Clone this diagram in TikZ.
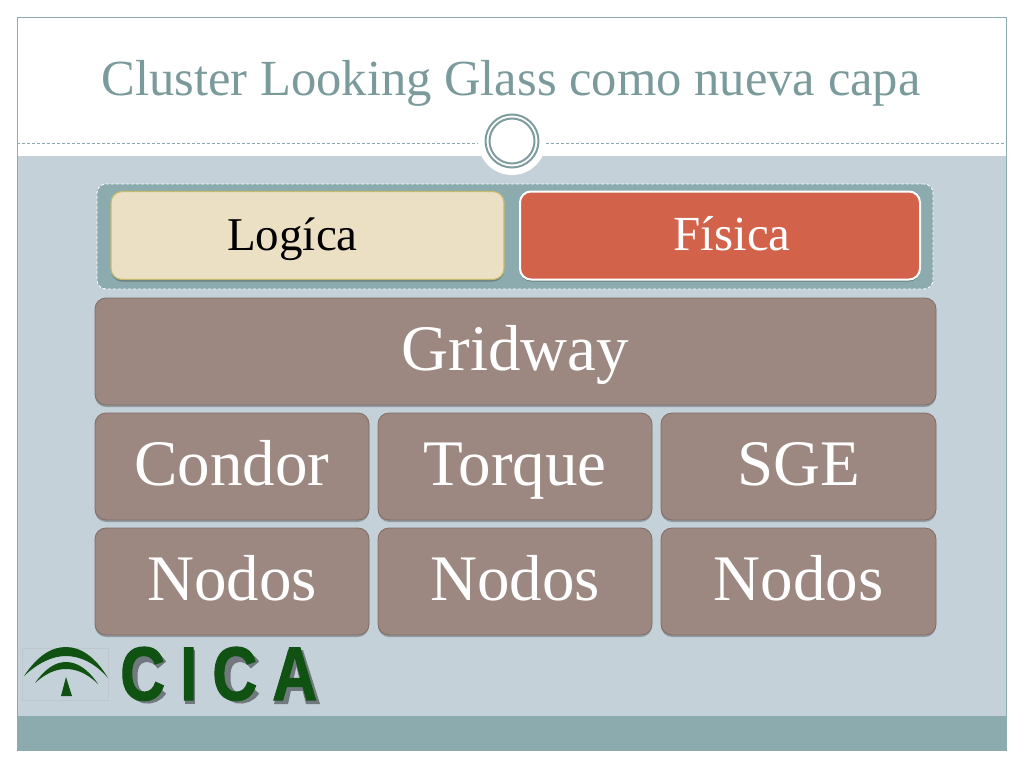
\documentclass[tikz,border=0pt]{standalone}
\usepackage{fontspec}
\setmainfont{Liberation Serif}
\newfontfamily\logofont[BoldFeatures={LetterSpace=24,FakeBold=1.5}]{Liberation Sans}
\usetikzlibrary{shadows}
\definecolor{bgblue}{HTML}{C5D1D9}
\definecolor{teal}{HTML}{8CABAE}
\definecolor{titlecol}{HTML}{7A9A9C}
\definecolor{ringcol}{HTML}{7F9C9F}
\definecolor{brownbox}{HTML}{9C8880}
\definecolor{brownline}{HTML}{7E6D66}
\definecolor{creambox}{HTML}{EBE0C4}
\definecolor{creamline}{HTML}{C4BA6E}
\definecolor{redbox}{HTML}{D2624A}
\definecolor{logogreen}{HTML}{0F5212}
\tikzset{
  softshadow/.style={general shadow={shadow xshift=0pt,shadow yshift=-2pt,fill=black,opacity=.25}},
  blockbox/.style={rectangle,rounded corners=11pt,draw=brownline,line width=.8pt,fill=brownbox,
    text=white,font=\fontsize{65}{65}\selectfont,softshadow,inner sep=0pt,
    text height=40pt,text depth=3pt},
  toplbl/.style={rectangle,rounded corners=11pt,softshadow,inner sep=0pt,
    text height=32pt,text depth=3pt,minimum height=88pt},
  lettershadow/.style={black!42!bgblue},
}
\begin{document}
\begin{tikzpicture}[x=1pt,y=-1pt]
\useasboundingbox (0,0) rectangle (1024,768);
\fill[white] (0,0) rectangle (1024,768);
% slide
\fill[bgblue] (17,156) rectangle (1006,716);
\fill[teal] (17,716) rectangle (1006,750);
\draw[teal,line width=.8pt] (17,17) rectangle (1006,750);
% header rule and medallion
\coordinate (ruleL) at (17,143);
\coordinate (ruleR) at (1006,143);
\node[circle,fill=white,minimum size=68pt,inner sep=0pt] (medal) at (512,141) {};
\coordinate (ruleLe) at (478,143);
\coordinate (ruleRs) at (546,143);
\draw[teal,line width=.9pt,densely dashed] (ruleL) -- (ruleLe);
\draw[teal,line width=.9pt,densely dashed] (ruleRs) -- (ruleR);
\node[circle,draw=ringcol,line width=2pt,minimum size=53pt,inner sep=0pt] (ringA) at (512,141) {};
\node[circle,draw=ringcol,line width=2pt,minimum size=45pt,inner sep=0pt] (ringB) at (512,141) {};
% title
\node[text=titlecol,font=\fontsize{50.6}{50.6}\selectfont,inner sep=0pt,anchor=base] (title) at (511,95) {Cluster Looking Glass como nueva capa};
% top panel
\node[rectangle,rounded corners=9pt,fill=teal,draw=white,line width=.8pt,densely dashed,minimum width=836pt,minimum height=105pt,inner sep=0pt] (panel) at (515,236.5) {};
\node[toplbl,fill=creambox,draw=creamline,line width=1.2pt,minimum width=393pt,text=black,font=\fontsize{47}{47}\selectfont] (logica) at (307.5,235.5) {\hspace*{-30pt}Logíca};
\node[toplbl,fill=redbox,draw=white,line width=2pt,minimum width=400pt,text=white,font=\fontsize{49}{49}\selectfont] (fisica) at (720,235.5) {\hspace*{24pt}Física};
% blocks
\node[blockbox,minimum width=841pt,minimum height=107pt] (gridway) at (515.5,351.5) {Gridway};
\node[blockbox,minimum width=274pt,minimum height=107pt] (condor) at (232,466.5) {Condor};
\node[blockbox,minimum width=274pt,minimum height=107pt] (torque) at (515,466.5) {Torque};
\node[blockbox,minimum width=275pt,minimum height=107pt] (sge) at (798.5,466.5) {SGE};
\node[blockbox,minimum width=274pt,minimum height=107pt] (nodosA) at (232,581.5) {Nodos};
\node[blockbox,minimum width=274pt,minimum height=107pt] (nodosB) at (515,581.5) {Nodos};
\node[blockbox,minimum width=275pt,minimum height=107pt] (nodosC) at (798.5,581.5) {Nodos};
% logo
\draw[gray!12!bgblue,line width=.5pt] (22,648) rectangle (108,700);
\fill[logogreen] (24,676) .. controls (38,655) and (52,647) .. (66,647) .. controls (80,647) and (95,656) .. (108,678) .. controls (95,663) and (80,656) .. (66,656) .. controls (52,656) and (38,663) .. (24,676) -- cycle;
\fill[logogreen] (35,683) .. controls (45,669) and (55,662) .. (66,662) .. controls (77,662) and (88,669) .. (98,684) .. controls (88,674) and (77,669) .. (66,669) .. controls (55,669) and (45,674) .. (35,683) -- cycle;
\fill[logogreen] (66,677) -- (72,696) -- (61,696) -- cycle;
% soft offset edge behind the lettering
\draw[lettershadow,line width=11pt] (162,665) .. controls (155,653) and (131,651) .. (132,677) .. controls (131,703) and (155,702) .. (162,690);
\fill[lettershadow] (185,650) rectangle (195,704);
\draw[lettershadow,line width=11pt] (255,665) .. controls (248,653) and (224,651) .. (225,677) .. controls (224,703) and (248,702) .. (255,690);
\fill[lettershadow] (288,650) -- (300,650) -- (288,704) -- (274,704) -- cycle;
\fill[lettershadow] (292,650) -- (303,650) -- (320,704) -- (306,704) -- cycle;
\fill[lettershadow] (283,683) rectangle (309,691);
\node[text=logogreen,font=\logofont\bfseries\fontsize{76}{76}\selectfont,inner sep=0pt,anchor=base west,xscale=.82,transform shape] (cica) at (120,700) {CICA};
\end{tikzpicture}
\end{document}
